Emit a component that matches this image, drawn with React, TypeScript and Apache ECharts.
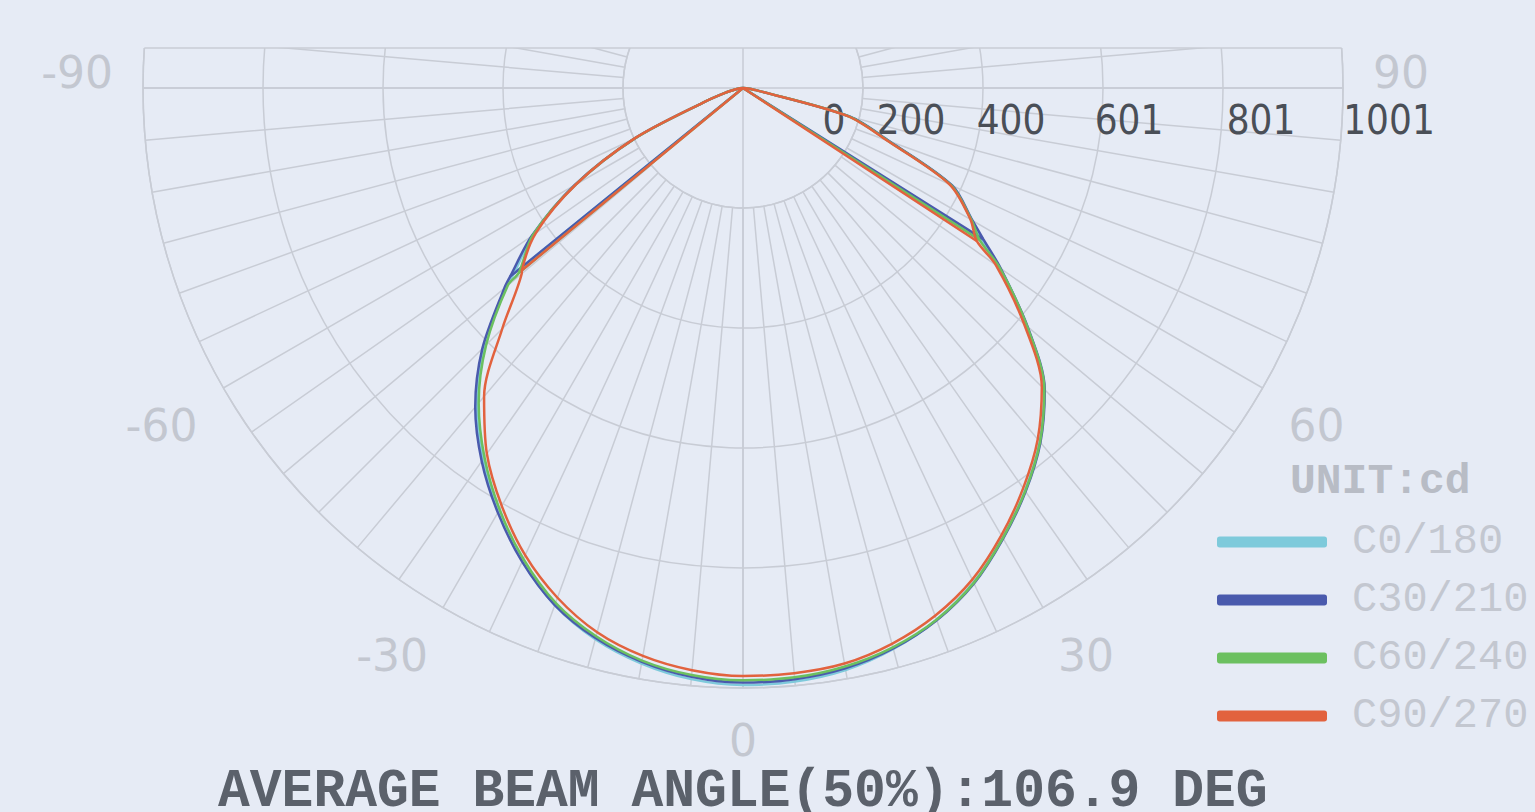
import React, { useEffect, useRef } from "react";
import * as echarts from "echarts";

// ---------- data ----------
const ANGLES = [
  -90, -85, -80, -75, -70, -65, -60, -55, -50, -45, -40, -35, -30, -25, -20, -15, -10, -5,
  0, 5, 10, 15, 20, 25, 30, 35, 40, 45, 50, 55, 60, 65, 70, 75, 80, 85, 90,
];

const SERIES_NAMES = ["C0/180", "C30/210", "C60/240", "C90/270"];

const C0_180 = [
  0, 5, 12, 30, 70, 198, 322, 428, 516, 611, 691, 756, 815, 871, 918, 952, 975, 990,
  996, 994, 986, 969, 944, 910, 866, 820, 770, 710, 618, 523, 440, 383, 258, 183, 25, 5, 0,
];
const C30_210 = [
  0, 5, 12, 30, 70, 200, 325, 430, 520, 615, 695, 760, 818, 872, 918, 950, 972, 986,
  992, 990, 983, 968, 945, 912, 868, 822, 772, 712, 620, 525, 442, 385, 260, 185, 25, 5, 0,
];
const C60_240 = [
  0, 5, 12, 30, 70, 199, 323, 428, 512, 606, 686, 752, 812, 867, 914, 947, 970, 983,
  988, 987, 980, 966, 944, 911, 867, 821, 771, 711, 619, 523, 440, 382, 257, 182, 25, 5, 0,
];
const C90_270 = [
  0, 5, 12, 30, 70, 200, 322, 422, 482, 568, 672, 745, 805, 860, 905, 940, 962, 975,
  981, 980, 975, 960, 937, 905, 862, 815, 765, 705, 612, 515, 438, 380, 255, 180, 25, 5, 0,
];
const SERIES_VALUES = [C0_180, C30_210, C60_240, C90_270];

// [angle, value] where the straight segment from the centre meets each curve
const JUNCTION_LEFT = [[-51, 492], [-51, 500], [-50.5, 485], [-50.5, 478]];
const JUNCTION_RIGHT = [[57.5, 471], [57.8, 474], [57.3, 469], [56.8, 466]];

const RADIAL_MAX = 1001;
const RADIAL_SPLITS = 5;
const RADIAL_TICK_LABELS = ["0", "200", "400", "601", "801", "1001"];
const ANGLE_TICKS = [-90, -60, -30, 0, 30, 60, 90];

const TITLE = "AVERAGE BEAM ANGLE(50%):106.9 DEG";
const UNIT = "UNIT:cd";

// ---------- styles / layout ----------
const COLORS = ["#7ecadb", "#4a5aad", "#6cc060", "#e2623e"];
const BG = "#e6ebf5";
const GRID = "#c8ccd5";
const CX = 743;
const CY = 88;
const R_OUT = 600;
const R_IN = 120;
const CLIP_Y = 48;
const SIDE_LABEL_RISE = 16;
const RADIAL_LABEL_SHIFT = [182, 96, 56, 52, 76, 92];

function curvePath(values: number[], jl: number[], jr: number[]) {
  const pts: number[][] = [];
  for (let i = 0; i < ANGLES.length; i++) {
    const a = ANGLES[i];
    if (i > 0 && ANGLES[i - 1] < jl[0] && a > jl[0]) pts.push([jl[1], jl[0]]);
    if (i > 0 && ANGLES[i - 1] < jr[0] && a > jr[0]) pts.push([jr[1], jr[0]]);
    pts.push([values[i], a]);
  }
  return pts;
}

function straightPath(jl: number[], jr: number[]) {
  return [
    [jl[1], jl[0]],
    [0, 0],
    [jr[1], jr[0]],
  ];
}

export default function App() {
  const ref = useRef<HTMLDivElement>(null);

  useEffect(() => {
    if (!ref.current) return;
    const chart = echarts.init(ref.current, null, { renderer: "svg" });

    const radialRich: any = {};
    RADIAL_TICK_LABELS.forEach((_, i) => {
      radialRich["r" + i] = {
        fontFamily: '"DejaVu Sans Condensed", "Liberation Sans Narrow", sans-serif',
        fontSize: 40,
        lineHeight: 40,
        color: "#4a4f57",
        padding: [0, 0, 0, RADIAL_LABEL_SHIFT[i]],
      };
    });

    const angleFont = {
      fontFamily: '"DejaVu Sans", sans-serif',
      fontSize: 44,
      color: "#c3c7d0",
    };

    const hw = Math.sqrt(R_OUT * R_OUT - (CY - CLIP_Y) * (CY - CLIP_Y));

    const hiddenRadius = (polarIndex: number, max: number) => ({
      polarIndex,
      type: "value",
      min: 0,
      max,
      axisLine: { show: false },
      axisTick: { show: false },
      axisLabel: { show: false },
      splitLine: { show: false },
    });

    const labelRadius = (polarIndex: number, parity: number, gridLines: boolean) => ({
      polarIndex,
      type: "value",
      min: 0,
      max: RADIAL_MAX,
      interval: RADIAL_MAX / RADIAL_SPLITS,
      axisLine: { show: false },
      axisTick: { show: false },
      splitLine: { show: gridLines, lineStyle: { color: GRID, width: 1.5 } },
      axisLabel: {
        show: true,
        interval: 0,
        showMinLabel: true,
        showMaxLabel: true,
        hideOverlap: false,
        margin: -12,
        align: "center",
        verticalAlign: "top",
        formatter: (_v: number, i: number) =>
          i % 2 === parity ? `{r${i}|${RADIAL_TICK_LABELS[i]}}` : "",
        rich: radialRich,
      },
    });

    const labelAngle = (polarIndex: number, keep: (a: number) => boolean) => ({
      polarIndex,
      type: "value",
      min: -180,
      max: 180,
      interval: 30,
      startAngle: 90,
      clockwise: false,
      axisLine: { show: false },
      axisTick: { show: false },
      splitLine: { show: false },
      axisLabel: {
        show: true,
        margin: 30,
        ...angleFont,
        formatter: (v: number) => {
          const a = Math.round(v);
          if (ANGLE_TICKS.indexOf(a) < 0 || !keep(a)) return "";
          return String(a);
        },
      },
    });

    const series: any[] = [];
    SERIES_NAMES.forEach((name, i) => {
      const common = {
        name,
        type: "line",
        coordinateSystem: "polar",
        polarIndex: 2,
        symbol: "none",
        showSymbol: false,
        z: 3 + i,
        color: COLORS[i],
        itemStyle: { color: COLORS[i] },
        lineStyle: { color: COLORS[i], width: 2.5 },
      };
      series.push({
        ...common,
        smooth: 0.3,
        data: curvePath(SERIES_VALUES[i], JUNCTION_LEFT[i], JUNCTION_RIGHT[i]),
      });
      series.push({
        ...common,
        smooth: false,
        data: straightPath(JUNCTION_LEFT[i], JUNCTION_RIGHT[i]),
      });
    });

    const option: any = {
      animation: false,
      backgroundColor: BG,
      title: [
        {
          text: TITLE,
          left: 218,
          top: 774,
          padding: 0,
          textStyle: {
            fontFamily: '"Liberation Mono", monospace',
            fontWeight: "bold",
            fontSize: 53,
            lineHeight: 36,
            color: "#5b616b",
          },
        },
        {
          text: UNIT,
          left: 1290,
          top: 460,
          padding: 0,
          textStyle: {
            fontFamily: '"Liberation Mono", monospace',
            fontWeight: "bold",
            fontSize: 43,
            color: "#b8bcc5",
          },
        },
      ],
      legend: {
        orient: "vertical",
        left: 1217,
        top: 521,
        padding: 0,
        icon: "roundRect",
        itemWidth: 110,
        itemHeight: 11,
        itemGap: 16,
        data: SERIES_NAMES,
        textStyle: {
          fontFamily: '"Liberation Mono", monospace',
          fontSize: 42,
          lineHeight: 42,
          color: "#c3c7d0",
          padding: [0, 0, 0, 20],
        },
      },
      polar: [
        { center: [CX, CY], radius: [0, R_OUT] },
        { center: [CX, CY], radius: [R_IN, R_OUT] },
        { center: [CX, CY], radius: [0, R_OUT] },
        { center: [CX, CY - SIDE_LABEL_RISE], radius: [0, R_OUT] },
        { center: [CX, CY], radius: [0, R_OUT] },
      ],
      angleAxis: [
        {
          polarIndex: 0,
          type: "value",
          min: 0,
          max: 360,
          interval: 90,
          startAngle: 0,
          axisLine: { show: false },
          axisTick: { show: false },
          axisLabel: { show: false },
          splitLine: { show: true, lineStyle: { color: GRID, width: 1.5 } },
        },
        {
          polarIndex: 1,
          type: "value",
          min: 0,
          max: 360,
          interval: 5,
          startAngle: 0,
          axisLine: { show: true, lineStyle: { color: GRID, width: 1.5 } },
          axisTick: { show: false },
          axisLabel: { show: false },
          splitLine: { show: true, lineStyle: { color: GRID, width: 1.5 } },
        },
        labelAngle(2, (a) => Math.abs(a) !== 90),
        labelAngle(3, (a) => Math.abs(a) === 90),
        {
          polarIndex: 4,
          type: "value",
          min: 0,
          max: 360,
          startAngle: 0,
          axisLine: { show: false },
          axisTick: { show: false },
          axisLabel: { show: false },
          splitLine: { show: false },
        },
      ],
      radiusAxis: [
        labelRadius(0, 0, true),
        hiddenRadius(1, 1),
        hiddenRadius(2, RADIAL_MAX),
        hiddenRadius(3, RADIAL_MAX),
        labelRadius(4, 1, false),
      ],
      series,
      graphic: [
        {
          type: "rect",
          z: 100,
          silent: true,
          shape: { x: 0, y: 0, width: 1535, height: CLIP_Y },
          style: { fill: BG },
        },
        {
          type: "line",
          z: 101,
          silent: true,
          shape: { x1: CX - hw, y1: CLIP_Y, x2: CX + hw, y2: CLIP_Y },
          style: { stroke: GRID, lineWidth: 1.5 },
        },
      ],
    };

    chart.setOption(option);
    return () => chart.dispose();
  }, []);

  return (
    <div
      ref={ref}
      style={{ position: "fixed", left: 0, top: 0, width: "100vw", height: "100vh" }}
    />
  );
}
